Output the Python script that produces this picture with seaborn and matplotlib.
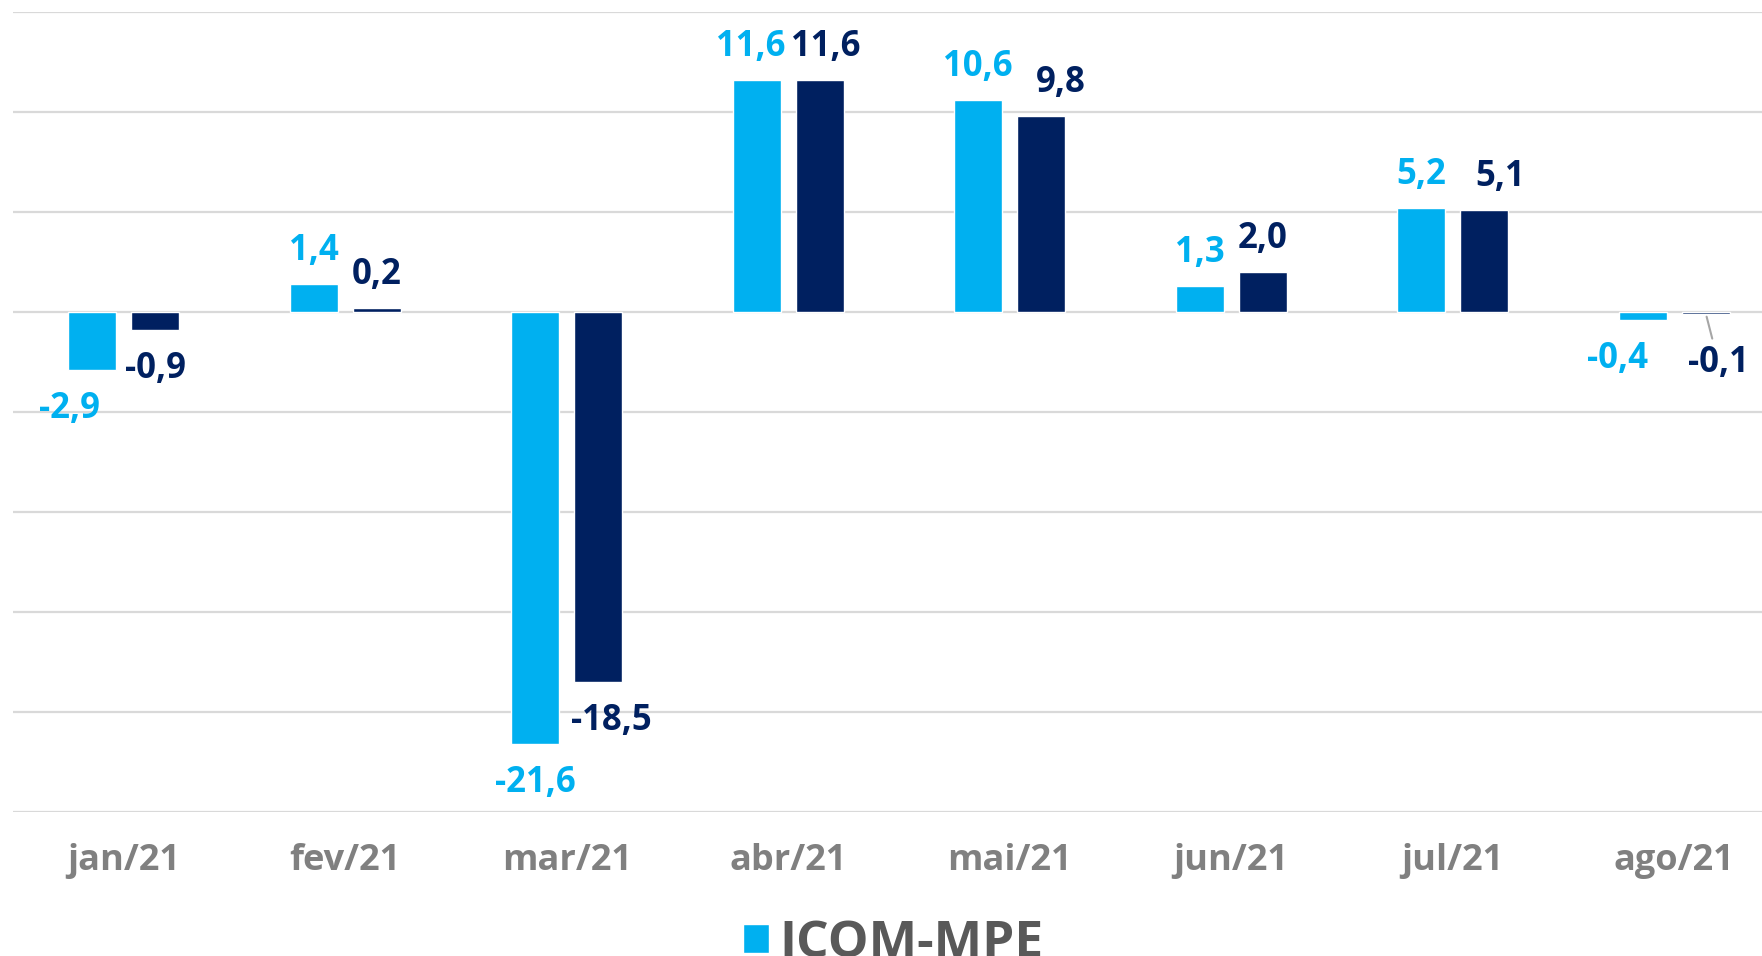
import pandas as pd
import numpy as np
import seaborn as sns
import matplotlib.pyplot as plt

# Data
months = ['jan/21', 'fev/21', 'mar/21', 'abr/21', 'mai/21', 'jun/21', 'jul/21', 'ago/21']
icom_mpe = [-2.9, 1.4, -21.6, 11.6, 10.6, 1.3, 5.2, -0.4]
icom = [-0.9, 0.2, -18.5, 11.6, 9.8, 2.0, 5.1, -0.1]
series_names = ['ICOM-MPE', 'ICOM']
colors = ['#00B0F0', '#002060']

df = pd.DataFrame({
    'Mes': months * 2,
    'Serie': [series_names[0]] * len(months) + [series_names[1]] * len(months),
    'Valor': icom_mpe + icom,
})

# label nudges in points (x) per series, to mimic the original layout
x_nudge = [[-16, 0, 0, -4, 0, 0, 0, -18],
           [0, 0, 9, 4, 14, 0, 11, 9]]

sns.set_style('white')
plt.rcParams['font.family'] = ['Open Sans', 'DejaVu Sans']

fig = plt.figure(figsize=(17.62, 9.56), dpi=100)
ax = fig.add_axes([13 / 1762, 144 / 956, 1772 / 1762, 800 / 956])

sns.barplot(data=df, x='Mes', y='Valor', hue='Serie', palette=colors,
            width=0.572, gap=0.24, ax=ax, saturation=1, legend=True)

ax.set_ylim(-25, 15)
ax.set_xlim(-0.5, 7.5)
ax.set_yticks(np.arange(-25, 16, 5))
ax.set_yticklabels([])
ax.grid(axis='y', color='#D9D9D9', linewidth=1.6)
ax.set_axisbelow(True)
for s in ax.spines.values():
    s.set_visible(False)
ax.tick_params(axis='y', length=0)
ax.tick_params(axis='x', length=0, pad=22, labelsize=26, labelcolor='#808080')
for t in ax.get_xticklabels():
    t.set_fontweight('bold')
ax.set_xlabel('')
ax.set_ylabel('')

# data labels
for si, cont in enumerate(ax.containers):
    for i, bar in enumerate(cont):
        v = bar.get_height()
        xc = bar.get_x() + bar.get_width() / 2
        txt = f'{v:.1f}'.replace('.', ',')
        dx = x_nudge[si][i]
        if v >= 0:
            ax.annotate(txt, (xc, v), xytext=(dx, 11), textcoords='offset points',
                        ha='center', va='bottom', fontsize=25, fontweight='bold',
                        color=colors[si])
        else:
            arrow = None
            dy = -15
            if si == 1 and i == 7:
                arrow = dict(arrowstyle='-', color='#A6A6A6', lw=1.5, shrinkA=2, shrinkB=2)
                dy = -22
            ax.annotate(txt, (xc, v), xytext=(dx, dy), textcoords='offset points',
                        ha='center', va='top', fontsize=25, fontweight='bold',
                        color=colors[si], arrowprops=arrow)

ax.legend(loc='upper center', bbox_to_anchor=(0.507, 0.066), bbox_transform=fig.transFigure,
          ncol=1, frameon=False, handlelength=0.5, handleheight=0.5,
          handletextpad=0.2, borderpad=0, labelcolor='#595959',
          prop={'family': ['Open Sans', 'DejaVu Sans'], 'weight': 'bold', 'size': 37})

fig.savefig('out.png', dpi=100)
